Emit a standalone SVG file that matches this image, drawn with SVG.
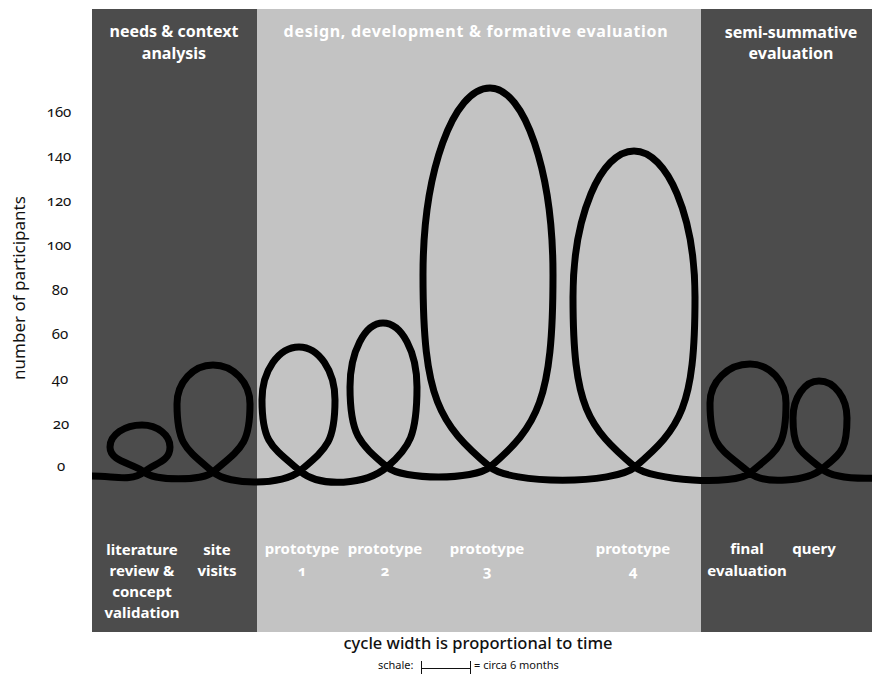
<svg xmlns="http://www.w3.org/2000/svg" width="872" height="675" viewBox="0 0 872 675">
  <style>
    .panel-dark { fill: #4c4c4c; }
    .panel-light { fill: #c3c3c3; }
    .head { font-family: "Noto Sans", "Open Sans", sans-serif; font-weight: 700; font-size: 16px; fill: #ffffff; text-anchor: middle; }
    .head-wide { letter-spacing: 0.7px; }
    .lbl { font-family: "Noto Sans", "Open Sans", sans-serif; font-weight: 700; font-size: 15px; fill: #ffffff; text-anchor: middle; font-variant-numeric: oldstyle-nums; }
    .tick { font-family: "Noto Sans", "Open Sans", sans-serif; font-size: 15px; fill: #111111; text-anchor: middle; font-variant-numeric: oldstyle-nums; }
    .axis { font-family: "Noto Sans", "Open Sans", sans-serif; font-size: 17px; fill: #111111; text-anchor: middle; }
    .caption { font-family: "Noto Sans", "Open Sans", sans-serif; font-weight: 500; font-size: 16.5px; fill: #111111; text-anchor: middle; }
    .small { font-family: "Noto Sans", "Open Sans", sans-serif; font-size: 11px; fill: #111111; }
    .cycle { fill: none; stroke: #000000; stroke-width: 7; stroke-linecap: butt; stroke-linejoin: round; }
    .scale { fill: none; stroke: #111111; stroke-width: 1; }
  </style>

  <rect width="872" height="675" fill="#ffffff"/>

  <!-- phase bands -->
  <g id="phase-analysis">
    <rect class="panel-dark" x="92" y="9" width="165" height="623"/>
    <text class="head" x="174" y="37">needs &amp; context</text>
    <text class="head" x="174" y="59">analysis</text>
  </g>
  <g id="phase-design">
    <rect class="panel-light" x="257" y="9" width="444" height="623"/>
    <text class="head head-wide" x="476" y="37">design, development &amp; formative evaluation</text>
  </g>
  <g id="phase-summative">
    <rect class="panel-dark" x="701" y="9" width="171" height="623"/>
    <text class="head" x="791" y="38">semi-summative</text>
    <text class="head" x="791" y="59">evaluation</text>
  </g>

  <!-- y axis -->
  <g id="y-axis">
    <text class="axis" transform="translate(25 288) rotate(-90)">number of participants</text>
    <text class="tick" x="59" y="117">160</text>
    <text class="tick" x="59" y="161">140</text>
    <text class="tick" x="59" y="206">120</text>
    <text class="tick" x="59" y="250">100</text>
    <text class="tick" x="60" y="295">80</text>
    <text class="tick" x="60" y="339">60</text>
    <text class="tick" x="60" y="384">40</text>
    <text class="tick" x="61" y="429">20</text>
    <text class="tick" x="61" y="471">0</text>
  </g>

  <!-- one continuous line, one loop per cycle -->
  <g id="connectors">
    <path class="cycle" d="M92,476
      C115,476 131,482 144,472
      C154.5,463.1 170,462 170,447
      C170,434.9 157.4,425 142,425
      C124.4,425 110,434.9 110,447
      C110,462 133.5,463.1 144,472
      C154.6,481.1 202.4,481.1 213,472
      C241.1,448 250,444.8 250,404
      C250,382.55 233.35,365 213,365
      C193.2,365 177,382.55 177,404
      C177,444.8 185.6,448.6 213,472
      C229.3,486 283.7,485 300,471
      C326.6,448.25 335,442.6 335,400
      C335,370.85 318.8,347 299,347
      C278.65,347 262,370.85 262,400
      C262,442.6 271.1,446.3 300,471
      C320.5,488.55 366.5,484.55 387,467
      C409.8,447.5 417,435 417,387
      C417,351.8 401.7,323 383,323
      C364.85,323 350,351.8 350,387
      C350,435 358.9,442.95 387,467
      C402.6,480.3 474.4,480.3 490,467
      C537.9,426.05 553,399.8 553,275
      C553,172.15 524.65,88 490,88
      C453.15,88 423,172.15 423,275
      C423,399.8 439.1,423.45 490,467
      C510.5,484.55 614.5,484.55 635,467
      C680.6,428 695,407.5 695,297
      C695,216.7 667.55,151 634,151
      C600.45,151 573,216.7 573,297
      C573,407.5 587.9,426.7 635,467
      C650.6,480.3 734.4,486.3 750,473
      C777.4,449.6 786,448.5 786,403
      C786,381.55 769.8,364 750,364
      C728,364 710,381.55 710,403
      C710,448.5 720.7,448 750,473
      C764.1,485 807.9,481 822,469
      C841,452.75 847,451 847,418
      C847,397.65 834.4,381 819,381
      C804.7,381 793,397.65 793,418
      C793,451 800.7,450.8 822,469
      C832.6,478.1 855,479 878,478"/>
  </g>

  <!-- cycle labels -->
  <g id="label-literature">
    <text class="lbl" x="142" y="555">literature</text>
    <text class="lbl" x="142" y="576">review &amp;</text>
    <text class="lbl" x="142" y="597">concept</text>
    <text class="lbl" x="142" y="618">validation</text>
  </g>
  <g id="label-site-visits">
    <text class="lbl" x="217" y="555">site</text>
    <text class="lbl" x="217" y="576">visits</text>
  </g>
  <g id="label-prototype-1">
    <text class="lbl" x="302" y="554">prototype</text>
    <text class="lbl" x="302" y="576">1</text>
  </g>
  <g id="label-prototype-2">
    <text class="lbl" x="385" y="554">prototype</text>
    <text class="lbl" x="385" y="576">2</text>
  </g>
  <g id="label-prototype-3">
    <text class="lbl" x="487" y="554">prototype</text>
    <text class="lbl" x="487" y="576">3</text>
  </g>
  <g id="label-prototype-4">
    <text class="lbl" x="633" y="554">prototype</text>
    <text class="lbl" x="633" y="576">4</text>
  </g>
  <g id="label-final">
    <text class="lbl" x="747" y="554">final</text>
    <text class="lbl" x="747" y="576">evaluation</text>
  </g>
  <g id="label-query">
    <text class="lbl" x="814" y="554">query</text>
  </g>

  <!-- legend -->
  <g id="legend">
    <text class="caption" x="478" y="649">cycle width is proportional to time</text>
    <text class="small" x="378" y="669">schale:</text>
    <path class="scale" d="M421.5,661 V674 M421.5,668.5 H470.5 M470.5,661 V674"/>
    <text class="small" x="474" y="669">= circa 6 months</text>
  </g>
</svg>
